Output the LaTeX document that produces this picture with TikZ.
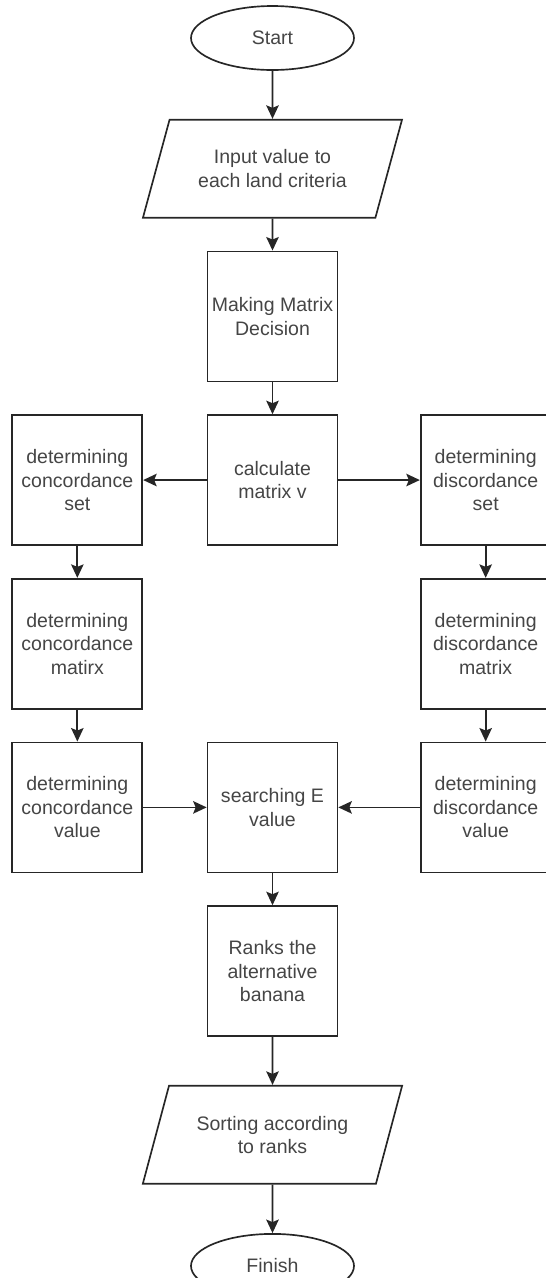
\documentclass[tikz,border=0pt]{standalone}
\usepackage{fontspec}
\setmainfont{Liberation Sans}
\usepackage{tikz}
\usetikzlibrary{
  arrows.meta,
  positioning,
  shapes.geometric,
}
\definecolor{lineblack}{HTML}{262626}
\definecolor{textgray}{HTML}{454545}

\begin{document}
\begin{tikzpicture}[
    font=\fontsize{11.1}{13.3}\selectfont,
    box/.style={rectangle, draw=lineblack, line width=0.95pt, text=textgray,
      align=center, minimum width=2.6cm, minimum height=2.6cm, inner sep=0pt},
    term/.style={ellipse, draw=lineblack, line width=0.95pt, text=textgray,
      minimum width=3.26cm, minimum height=1.28cm, inner sep=0pt},
    io/.style={trapezium, trapezium left angle=63, trapezium right angle=117,
      trapezium stretches=true, draw=lineblack, line width=0.95pt, text=textgray,
      align=center, minimum width=5.19cm, minimum height=1.96cm, inner sep=0pt},
    arr/.style={draw=lineblack, line width=0.95pt,
      -{Stealth[length=0.27cm, width=0.25cm, inset=0.05cm]}},
  ]
  \useasboundingbox (0,0) rectangle (10.9,-25.56);

  % main column
  \node[term] (start) at (5.45,-0.76) {Start};
  \node[io, below=0.96cm of start] (input) {Input value to\\each land criteria};
  \node[box, below=0.64cm of input] (making) {Making Matrix\\Decision};
  \node[box, below=0.64cm of making] (calc) {calculate\\matrix v};

  % concordance branch
  \node[box, left=1.27cm of calc] (conset) {determining\\concordance\\set};
  \node[box, below=0.64cm of conset] (conmat) {determining\\concordance\\matirx};
  \node[box, below=0.64cm of conmat] (conval) {determining\\concordance\\value};

  % discordance branch
  \node[box, right=1.63cm of calc] (disset) {determining\\discordance\\set};
  \node[box, below=0.64cm of disset] (dismat) {determining\\discordance\\matrix};
  \node[box, below=0.64cm of dismat] (disval) {determining\\discordance\\value};

  \node[box, right=1.27cm of conval] (evalue) {searching E\\value};
  \node[box, below=0.64cm of evalue] (ranks) {Ranks the\\alternative\\banana};
  \node[io, below=0.96cm of ranks] (sorting) {Sorting according\\to ranks};
  \node[term, below=0.97cm of sorting] (finish) {Finish};

  \draw[arr] (start) -- (input);
  \draw[arr] (input) -- (making);
  \draw[arr] (making) -- (calc);
  \draw[arr] (calc) -- (conset);
  \draw[arr] (calc) -- (disset);
  \draw[arr] (conset) -- (conmat);
  \draw[arr] (conmat) -- (conval);
  \draw[arr] (disset) -- (dismat);
  \draw[arr] (dismat) -- (disval);
  \draw[arr] (conval) -- (evalue);
  \draw[arr] (disval) -- (evalue);
  \draw[arr] (evalue) -- (ranks);
  \draw[arr] (ranks) -- (sorting);
  \draw[arr] (sorting) -- (finish);
\end{tikzpicture}
\end{document}
